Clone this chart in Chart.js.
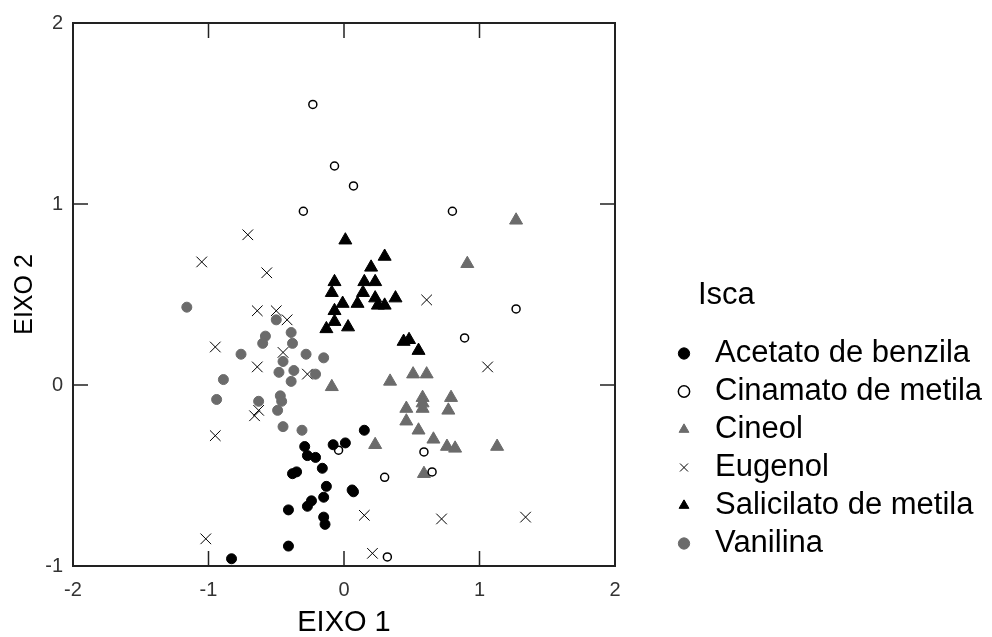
<!DOCTYPE html>
<html>
<head>
<meta charset="utf-8">
<script src="https://cdn.jsdelivr.net/npm/chart.js@4.4.0/dist/chart.umd.min.js"></script>
<style>
  html, body { margin: 0; padding: 0; background: #fff; }
</style>
</head>
<body>
<canvas id="myChart" width="992" height="637"></canvas>
<script>
// legend names, in legend order
var seriesNames = ["Acetato de benzila", "Cinamato de metila", "Cineol", "Eugenol", "Salicilato de metila", "Vanilina"];
var legendTitle = "Isca";

// axis ticks
var xTicks = [-2, -1, 0, 1, 2];
var yTicks = [-1, 0, 1, 2];

// scores (EIXO 1 = x, EIXO 2 = y)
var acetatoX = [0.15, -0.08, 0.01, 0.06, 0.07, -0.29, -0.27, -0.21, -0.16, -0.38, -0.35, -0.13, -0.15, -0.24, -0.27, -0.41, -0.15, -0.14, -0.41, -0.83];
var acetatoY = [-0.25, -0.33, -0.32, -0.58, -0.59, -0.34, -0.39, -0.40, -0.46, -0.49, -0.48, -0.56, -0.62, -0.64, -0.67, -0.69, -0.73, -0.77, -0.89, -0.96];

var cinamatoX = [-0.23, -0.07, 0.07, -0.30, 0.80, 1.27, 0.89, -0.04, 0.59, 0.65, 0.30, 0.32];
var cinamatoY = [1.55, 1.21, 1.10, 0.96, 0.96, 0.42, 0.26, -0.36, -0.37, -0.48, -0.51, -0.95];

var cineolX = [1.27, 0.91, 0.51, 0.61, 0.34, -0.09, 0.58, 0.79, 0.46, 0.58, 0.77, 0.46, 0.55, 0.23, 0.66, 0.76, 0.82, 1.13, 0.59, 0.58];
var cineolY = [0.91, 0.67, 0.06, 0.06, 0.02, -0.01, -0.07, -0.07, -0.13, -0.13, -0.14, -0.20, -0.25, -0.33, -0.30, -0.34, -0.35, -0.34, -0.49, -0.10];

var eugenolX = [-0.71, -1.05, -0.57, -0.64, -0.50, -0.42, 0.61, -0.95, -0.45, -0.64, -0.27, 1.06, -0.66, -0.63, -0.95, -1.02, 0.15, 0.72, 1.34, 0.21];
var eugenolY = [0.83, 0.68, 0.62, 0.41, 0.41, 0.36, 0.47, 0.21, 0.18, 0.10, 0.06, 0.10, -0.17, -0.14, -0.28, -0.85, -0.72, -0.74, -0.73, -0.93];

var salicilatoX = [0.01, 0.30, 0.20, -0.07, 0.15, 0.23, 0.14, -0.09, -0.01, 0.10, 0.23, 0.25, 0.30, 0.38, -0.07, -0.07, 0.03, -0.13, 0.44, 0.48, 0.55];
var salicilatoY = [0.80, 0.71, 0.65, 0.57, 0.57, 0.57, 0.51, 0.51, 0.45, 0.45, 0.48, 0.44, 0.44, 0.48, 0.41, 0.35, 0.32, 0.31, 0.24, 0.25, 0.19];

var vanilinaX = [-1.16, -0.50, -0.58, -0.60, -0.39, -0.38, -0.76, -0.45, -0.28, -0.15, -0.89, -0.48, -0.37, -0.39, -0.21, -0.94, -0.63, -0.47, -0.46, -0.49, -0.45, -0.31];
var vanilinaY = [0.43, 0.36, 0.27, 0.23, 0.29, 0.23, 0.17, 0.13, 0.17, 0.15, 0.03, 0.07, 0.08, 0.02, 0.06, -0.08, -0.09, -0.06, -0.09, -0.14, -0.23, -0.25];

var FONT = "'Liberation Sans', Arial, sans-serif";
var GREY = '#6b6b6b';

// pairs x and y arrays into scatter points
function toPoints(xs, ys) {
  var pts = [];
  for (var i = 0; i < xs.length; i++) {
    pts.push({x: xs[i], y: ys[i]});
  }
  return pts;
}

// plot frame with inward ticks on all four sides
var framePlugin = {
  id: 'frame',
  beforeDatasetsDraw: function(chart) {
    var ctx = chart.ctx, a = chart.chartArea;
    var xs = chart.scales.x, ys = chart.scales.y;
    var len = 15;
    ctx.save();
    ctx.strokeStyle = '#222';
    ctx.lineWidth = 2;
    ctx.strokeRect(a.left, a.top, a.right - a.left, a.bottom - a.top);
    ctx.lineWidth = 1.5;
    ctx.beginPath();
    xs.ticks.forEach(function(t) {
      var px = xs.getPixelForValue(t.value);
      ctx.moveTo(px, a.bottom); ctx.lineTo(px, a.bottom - len);
      ctx.moveTo(px, a.top); ctx.lineTo(px, a.top + len);
    });
    ys.ticks.forEach(function(t) {
      var py = ys.getPixelForValue(t.value);
      ctx.moveTo(a.left, py); ctx.lineTo(a.left + len, py);
      ctx.moveTo(a.right, py); ctx.lineTo(a.right - len, py);
    });
    ctx.stroke();
    ctx.restore();
  }
};

// the layout caps the legend box at a narrow width; widen it to the canvas edge
// so the long labels are not clipped, then draw the heading right of the markers
var legendPlugin = {
  id: 'legendTweak',
  afterLayout: function(chart) {
    var lg = chart.legend;
    if (!lg) return;
    lg.right = chart.width;
    lg.width = lg.right - lg.left;
  },
  afterDraw: function(chart) {
    var lg = chart.legend;
    if (!lg || !lg.columnSizes || !lg.columnSizes.length) return;
    var ctx = chart.ctx;
    var firstTop = lg.bottom - lg.columnSizes[0].height;
    ctx.save();
    ctx.font = '31px ' + FONT;
    ctx.fillStyle = '#000';
    ctx.textAlign = 'left';
    ctx.textBaseline = 'middle';
    ctx.fillText(legendTitle, lg.left + 36.5, firstTop + 15.5 - 58);
    ctx.restore();
  }
};

var data = {
  datasets: [
    { label: seriesNames[0], data: toPoints(acetatoX, acetatoY), pointStyle: 'circle', radius: 5,
      backgroundColor: '#000', borderColor: '#000', borderWidth: 1 },
    { label: seriesNames[1], data: toPoints(cinamatoX, cinamatoY), pointStyle: 'circle', radius: 4,
      backgroundColor: '#fff', borderColor: '#000', borderWidth: 1.5 },
    { label: seriesNames[2], data: toPoints(cineolX, cineolY), pointStyle: 'triangle', radius: 7.5,
      backgroundColor: GREY, borderColor: GREY, borderWidth: 1 },
    { label: seriesNames[3], data: toPoints(eugenolX, eugenolY), pointStyle: 'crossRot', radius: 7.5,
      backgroundColor: '#000', borderColor: '#000', borderWidth: 1 },
    { label: seriesNames[4], data: toPoints(salicilatoX, salicilatoY), pointStyle: 'triangle', radius: 7.5,
      backgroundColor: '#000', borderColor: '#000', borderWidth: 1 },
    { label: seriesNames[5], data: toPoints(vanilinaX, vanilinaY), pointStyle: 'circle', radius: 5,
      backgroundColor: GREY, borderColor: GREY, borderWidth: 1 }
  ]
};

var options = {
  responsive: false,
  animation: false,
  devicePixelRatio: 1,
  layout: { padding: { left: 0, top: 23, right: 165.5, bottom: 0 } },
  plugins: {
    tooltip: { enabled: false },
    legend: {
      position: 'right',
      align: 'end',
      fullSize: false,
      maxWidth: 165,
      title: { display: false },
      labels: {
        usePointStyle: true, boxWidth: 31, boxHeight: 8, padding: 7, color: '#000',
        font: { family: FONT, size: 31 }
      }
    }
  },
  scales: {
    x: {
      type: 'linear', position: 'bottom', min: -2, max: 2,
      afterBuildTicks: function(axis) { axis.ticks = xTicks.map(function(v) { return {value: v}; }); },
      afterFit: function(axis) { axis.height = 71; },
      grid: { display: false, drawTicks: false },
      border: { display: false },
      ticks: { color: '#333', padding: 12, font: { family: FONT, size: 20 } },
      title: { display: true, text: 'EIXO 1', color: '#000', padding: 0,
        font: { family: FONT, size: 29, lineHeight: 1 } }
    },
    y: {
      type: 'linear', position: 'left', min: -1, max: 2,
      afterBuildTicks: function(axis) { axis.ticks = yTicks.map(function(v) { return {value: v}; }); },
      afterFit: function(axis) { axis.width = 73; },
      grid: { display: false, drawTicks: false },
      border: { display: false },
      ticks: { color: '#333', padding: 10, font: { family: FONT, size: 20 } },
      title: { display: true, text: 'EIXO 2', color: '#000', padding: { top: 10, bottom: 0 },
        font: { family: FONT, size: 25 } }
    },
    // empty spacer between plot and legend
    gap: {
      type: 'linear', axis: 'y', position: 'right', display: true,
      afterFit: function(axis) { axis.width = 46.5; },
      grid: { display: false, drawTicks: false },
      border: { display: false },
      ticks: { display: false },
      title: { display: false }
    }
  }
};

var myChart = new Chart(document.getElementById('myChart'), {
  type: 'scatter',
  data: data,
  options: options,
  plugins: [framePlugin, legendPlugin]
});
</script>
</body>
</html>
